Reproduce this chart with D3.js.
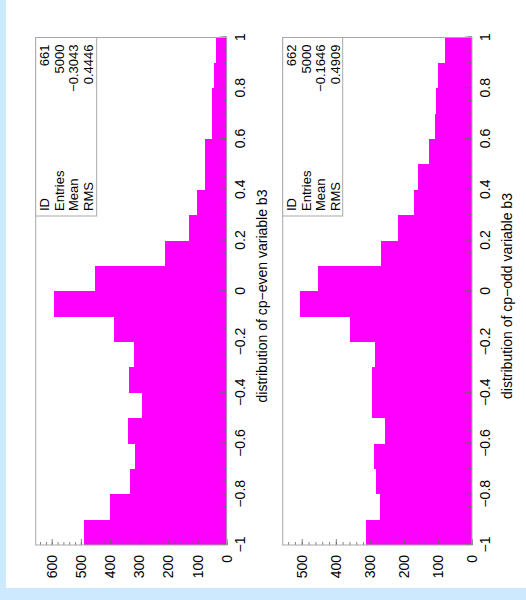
<!DOCTYPE html>
<html>
<head>
<meta charset="utf-8">
<script src="https://cdn.jsdelivr.net/npm/d3@7"></script>
<style>
  html, body { margin: 0; padding: 0; background: #fff; overflow: hidden; }
  svg { display: block; font-family: "Liberation Sans", Arial, Helvetica, sans-serif; }
</style>
</head>
<body>
<svg id="chart" width="526" height="600"></svg>
<script>
// Histogram bins: 20 bins of width 0.1 from -1 to 1 (lower edges)
const binLow = [-1.0, -0.9, -0.8, -0.7, -0.6, -0.5, -0.4, -0.3, -0.2, -0.1,
                 0.0,  0.1,  0.2,  0.3,  0.4,  0.5,  0.6,  0.7,  0.8,  0.9];
const binWidth = 0.1;

// Entries per bin
const evenCounts = [490, 400, 330, 316, 337, 290, 336, 319, 386, 591,
                    450, 213, 129, 102,  76,  74,  52,  50,  45,  38];
const oddCounts  = [310, 270, 281, 287, 256, 295, 293, 285, 357, 505,
                    452, 268, 218, 169, 160, 126, 110, 105, 100,  80];

// Axis ticks
const xTicks = [-1, -0.8, -0.6, -0.4, -0.2, 0, 0.2, 0.4, 0.6, 0.8, 1];
const evenCountTicks = [0, 100, 200, 300, 400, 500, 600];
const oddCountTicks  = [0, 100, 200, 300, 400, 500];

// Statistics boxes
const statLabels = ["ID", "Entries", "Mean", "RMS"];
const evenStats = ["661", "5000", "\u22120.3043", "0.4446"];
const oddStats  = ["662", "5000", "\u22120.1646", "0.4909"];

// Axis titles
const evenTitle = "distribution of cp\u2212even variable b3";
const oddTitle  = "distribution of cp\u2212odd variable b3";

const svg = d3.select("#chart");

// light blue page border (left and bottom)
svg.append("rect").attr("width", 526).attr("height", 600).attr("fill", "#cde9fd");
svg.append("rect").attr("x", 6).attr("y", 0).attr("width", 520).attr("height", 588).attr("fill", "#ffffff");

// The page is drawn in landscape and turned a quarter turn counter-clockwise.
// Local frame: u to the right (= up on screen), v downward (= right on screen).
const root = svg.append("g").attr("transform", "translate(0,600) rotate(-90)");

const x = d3.scaleLinear().domain([-1, 1]).range([55, 562.5]);

const fmtX = v => (v < 0 ? "\u2212" : "") + Math.abs(v);

const panels = [
  { counts: evenCounts, ticks: evenCountTicks, stats: evenStats, title: evenTitle,
    yMax: 655, top: 35.7, bottom: 226.7, boxBottom: 96.7 },
  { counts: oddCounts, ticks: oddCountTicks, stats: oddStats, title: oddTitle,
    yMax: 556, top: 282.7, bottom: 472, boxBottom: 342.7 }
];

const frameColor = "#a8a8a8";
const tickColor = "rgba(100,100,100,0.8)";
const labelFont = "Liberation Sans, Arial, sans-serif";

panels.forEach(p => {
  const y = d3.scaleLinear().domain([0, p.yMax]).range([p.bottom, p.top]);
  const g = root.append("g");

  // frame background
  g.append("rect")
    .attr("x", x(-1)).attr("y", y(p.yMax))
    .attr("width", x(1) - x(-1)).attr("height", y(0) - y(p.yMax))
    .attr("fill", "#fff");

  // histogram bars
  g.selectAll("rect.bin")
    .data(binLow.map((lo, i) => ({ lo, n: p.counts[i] })))
    .join("rect")
    .attr("class", "bin")
    .attr("x", d => x(d.lo))
    .attr("width", d => x(d.lo + binWidth) - x(d.lo))
    .attr("y", d => y(d.n))
    .attr("height", d => y(0) - y(d.n))
    .attr("fill", "#ff00ff")
    .attr("shape-rendering", "crispEdges");

  // minor ticks along the bin axis
  const minorX = d3.range(0, 41).map(k => -1 + k * 0.05);
  g.append("g")
    .attr("transform", `translate(0,${p.bottom})`)
    .call(d3.axisBottom(x).tickValues(minorX).tickSizeInner(-4).tickSizeOuter(0).tickFormat(""))
    .call(a => a.select(".domain").remove())
    .call(a => a.selectAll("line").attr("stroke", tickColor));

  // major ticks and labels along the bin axis
  g.append("g")
    .attr("transform", `translate(0,${p.bottom})`)
    .call(d3.axisBottom(x).tickValues(xTicks).tickSizeInner(-7).tickSizeOuter(0).tickPadding(8).tickFormat(fmtX))
    .call(a => a.select(".domain").remove())
    .call(a => a.selectAll("line").attr("stroke", tickColor))
    .call(a => a.selectAll("text").attr("font-size", 14).attr("fill", "#000")
      .attr("font-family", labelFont));

  // minor ticks along the count axis
  const minorY = d3.range(0, p.yMax, 20);
  g.append("g")
    .attr("transform", `translate(${x(-1)},0)`)
    .call(d3.axisLeft(y).tickValues(minorY).tickSizeInner(-3).tickSizeOuter(0).tickFormat(""))
    .call(a => a.select(".domain").remove())
    .call(a => a.selectAll("line").attr("stroke", tickColor));

  // major ticks and labels along the count axis
  g.append("g")
    .attr("transform", `translate(${x(-1)},0)`)
    .call(d3.axisLeft(y).tickValues(p.ticks).tickSizeInner(-6).tickSizeOuter(0).tickPadding(10).tickFormat(d3.format("d")))
    .call(a => a.select(".domain").remove())
    .call(a => a.selectAll("line").attr("stroke", tickColor))
    .call(a => a.selectAll("text").attr("font-size", 14).attr("fill", "#000")
      .attr("font-family", labelFont));

  // frame outline
  g.append("rect")
    .attr("x", x(-1)).attr("y", y(p.yMax))
    .attr("width", x(1) - x(-1)).attr("height", y(0) - y(p.yMax))
    .attr("fill", "none").attr("stroke", frameColor).attr("stroke-width", 1);

  // statistics box
  const boxLeft = 384, boxRight = x(1);
  const box = g.append("g");
  box.append("rect")
    .attr("x", boxLeft).attr("y", p.top)
    .attr("width", boxRight - boxLeft).attr("height", p.boxBottom - p.top)
    .attr("fill", "#fff").attr("stroke", frameColor).attr("stroke-width", 1);
  statLabels.forEach((lab, i) => {
    const base = p.top + 13.5 + i * 14.5;
    box.append("text").attr("x", boxLeft + 5).attr("y", base)
      .attr("font-size", 13).attr("fill", "#000").text(lab);
    box.append("text").attr("x", boxRight - 7).attr("y", base)
      .attr("font-size", 13).attr("fill", "#000").attr("text-anchor", "end").text(p.stats[i]);
  });

  // axis title
  g.append("text")
    .attr("x", 304).attr("y", p.bottom + 40)
    .attr("text-anchor", "middle")
    .attr("font-size", 14).attr("fill", "#000")
    .text(p.title);
});
</script>
</body>
</html>
